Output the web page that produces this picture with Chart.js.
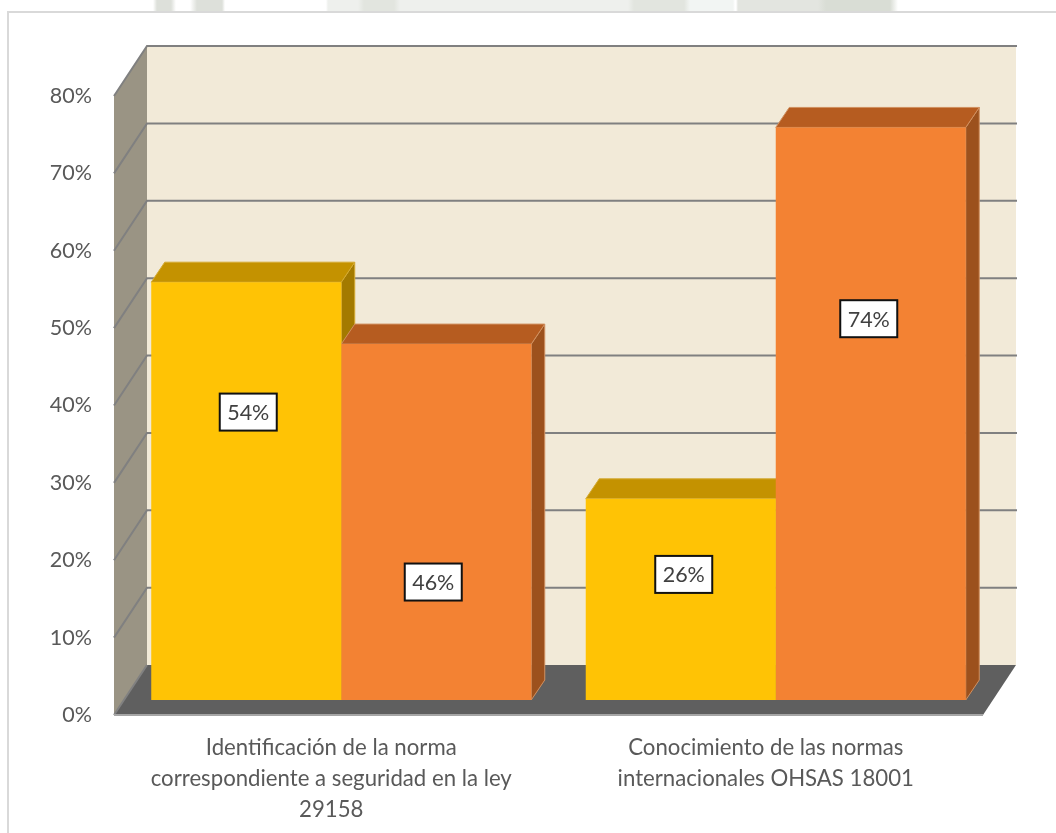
<!DOCTYPE html>
<html>
<head>
<meta charset="utf-8">
<title>Normas de seguridad</title>
<script src="https://cdn.jsdelivr.net/npm/chart.js@4"></script>
<style>
    html, body { margin: 0; padding: 0; background: #fff; overflow: hidden; }
    #wrap { position: relative; width: 1056px; height: 833px; }
    #band { position: absolute; left: 0; top: 0; width: 1056px; height: 11px;
        background: linear-gradient(to right,
            #fff 153px, #dde0da 157px, #dde0da 171px, #fff 176px,
            #fff 190px, #dde0da 197px, #dde0da 222px, #fff 225px,
            #fff 326px, #eef0ed 328px, #eef0ed 358px, #e2e5df 364px, #e2e5df 394px, #eef0ed 400px,
            #eef0ed 628px, #e2e5df 634px, #e2e5df 684px, #f2f5f3 690px, #f2f5f3 733px,
            #fff 735px, #fff 736px, #e3e5e0 738px, #e3e5e0 818px, #d9ddd5 826px, #d9ddd5 890px, #fff 898px); }
    #card { position: absolute; left: 7px; top: 11px; width: 1049px; height: 822px;
        border-top: 2px solid #d9d9d9; border-left: 2px solid #d9d9d9; box-sizing: border-box; }
    canvas { position: absolute; left: 0; top: 0; }
</style>
</head>
<body>
<div id="wrap">
    <div id="band"></div>
    <div id="card"></div>
    <canvas id="normasChart" width="1056" height="833"></canvas>
</div>
<script>
const categories = [
    ['Identificación de la norma', 'correspondiente a seguridad en la ley', '29158'],
    ['Conocimiento de las normas', 'internacionales OHSAS 18001']
];
const seriesA = [54, 26];
const seriesB = [46, 74];
const tickValues = [0, 10, 20, 30, 40, 50, 60, 70, 80];

// depth of the box, measured from the plane the bars stand on
const FRONT = { dx: -10, dy: 15 };
const BACK = { dx: 23, dy: -35 };
const BAR_DEPTH = { dx: 13.5, dy: -20 };

const FONT = 'Lato, Carlito, sans-serif';

const barColors = [
    { front: '#ffc305', top: '#c49200', side: '#a37a00', edge: '#d4aa33' },
    { front: '#f38233', top: '#b65c20', side: '#9c511d', edge: '#d09060' }
];

// where each value box sits relative to the centre of its bar
const boxNudge = [
    [{ x: 2, y: -79 }, { x: 3, y: -25 }],
    [{ x: -3, y: 60 }, { x: -2, y: -95 }]
];

function poly(ctx, pts, fill, stroke) {
    ctx.beginPath();
    pts.forEach(function (p, i) {
        if (i === 0) ctx.moveTo(p[0], p[1]);
        else ctx.lineTo(p[0], p[1]);
    });
    ctx.closePath();
    ctx.fillStyle = fill;
    ctx.fill();
    if (stroke) {
        ctx.strokeStyle = stroke;
        ctx.lineWidth = 1;
        ctx.stroke();
    }
}

const boxPlugin = {
    id: 'box3d',
    beforeDatasetsDraw(chart) {
        const ctx = chart.ctx;
        const y = chart.scales.y;
        const a = chart.chartArea;
        const yTop = y.getPixelForValue(80);
        const yBase = y.getPixelForValue(0);
        const l0 = a.left + FRONT.dx, l1 = a.left + BACK.dx;
        const r0 = a.right + FRONT.dx, r1 = a.right + BACK.dx;

        ctx.save();
        // back wall
        poly(ctx, [[l1, yTop + BACK.dy], [r1, yTop + BACK.dy], [r1, yBase + BACK.dy], [l1, yBase + BACK.dy]], '#f2ead8');
        // side wall
        poly(ctx, [[l0, yTop + FRONT.dy], [l1, yTop + BACK.dy], [l1, yBase + BACK.dy], [l0, yBase + FRONT.dy]], '#9a9484');
        // floor
        poly(ctx, [[l0, yBase + FRONT.dy], [l1, yBase + BACK.dy], [r1, yBase + BACK.dy], [r0, yBase + FRONT.dy]], '#5f5f5f');

        // grid lines run along the side wall and across the back wall
        ctx.strokeStyle = '#808080';
        ctx.lineWidth = 2;
        tickValues.forEach(function (v) {
            const p = y.getPixelForValue(v);
            ctx.beginPath();
            ctx.moveTo(l0, p + FRONT.dy);
            ctx.lineTo(l1, p + BACK.dy);
            if (v > 0) ctx.lineTo(r1 + 1, p + BACK.dy);
            ctx.stroke();
        });
        ctx.strokeStyle = '#a6a6a6';
        ctx.beginPath();
        ctx.moveTo(l0, yBase + FRONT.dy);
        ctx.lineTo(r0, yBase + FRONT.dy);
        ctx.stroke();

        // top and side faces of the bars
        chart.data.datasets.forEach(function (ds, di) {
            const c = barColors[di];
            chart.getDatasetMeta(di).data.forEach(function (bar) {
                const x0 = bar.x - bar.width / 2, x1 = bar.x + bar.width / 2;
                const t = bar.y, b = bar.base;
                const dx = BAR_DEPTH.dx, dy = BAR_DEPTH.dy;
                poly(ctx, [[x1, t], [x1 + dx, t + dy], [x1 + dx, b + dy], [x1, b]], c.side, c.edge);
                poly(ctx, [[x0, t], [x0 + dx, t + dy], [x1 + dx, t + dy], [x1, t]], c.top, c.edge);
            });
        });
        ctx.restore();
    },
    afterDatasetsDraw(chart) {
        const ctx = chart.ctx;
        ctx.save();
        ctx.font = '21.5px ' + FONT;
        ctx.textAlign = 'center';
        ctx.textBaseline = 'middle';
        chart.data.datasets.forEach(function (ds, di) {
            chart.getDatasetMeta(di).data.forEach(function (bar, i) {
                const n = boxNudge[di][i];
                const cx = bar.x + n.x;
                const cy = (bar.y + bar.base) / 2 + n.y;
                ctx.fillStyle = '#fff';
                ctx.fillRect(cx - 28.5, cy - 18.5, 57, 37);
                ctx.strokeStyle = '#111';
                ctx.lineWidth = 2;
                ctx.strokeRect(cx - 28.5, cy - 18.5, 57, 37);
                ctx.fillStyle = '#404040';
                ctx.fillText(ds.data[i] + '%', cx, cy + 1);
            });
        });
        ctx.restore();
    }
};

new Chart(document.getElementById('normasChart').getContext('2d'), {
    type: 'bar',
    data: {
        labels: categories,
        datasets: [
            { label: 'Serie 1', data: seriesA, backgroundColor: barColors[0].front, barPercentage: 1, categoryPercentage: 0.8746 },
            { label: 'Serie 2', data: seriesB, backgroundColor: barColors[1].front, barPercentage: 1, categoryPercentage: 0.8746 }
        ]
    },
    options: {
        responsive: false,
        animation: false,
        layout: { padding: { top: 81, right: 63, left: 0, bottom: 0 } },
        plugins: {
            legend: { display: false },
            tooltip: { enabled: false }
        },
        scales: {
            x: {
                grid: { display: false, drawTicks: false },
                border: { display: false },
                afterFit: function (scale) { scale.height = 133; },
                ticks: {
                    autoSkip: false,
                    maxRotation: 0,
                    padding: 33,
                    labelOffset: FRONT.dx,
                    color: '#595959',
                    font: { family: FONT, size: 22.2, lineHeight: 1.38 }
                }
            },
            y: {
                min: 0,
                max: 80,
                grid: { display: false, drawTicks: false },
                border: { display: false },
                afterFit: function (scale) { scale.width = 124; },
                afterBuildTicks: function (scale) {
                    scale.ticks = tickValues.map(function (v) { return { value: v }; });
                },
                ticks: {
                    padding: 32,
                    labelOffset: FRONT.dy,
                    color: '#595959',
                    font: { family: FONT, size: 21.5 },
                    callback: function (v) { return v + '%'; }
                }
            }
        }
    },
    plugins: [boxPlugin]
});
</script>
</body>
</html>
